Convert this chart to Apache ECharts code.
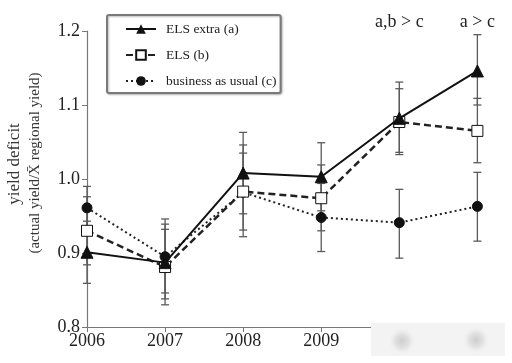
<!DOCTYPE html>
<html><head><meta charset="utf-8">
<script src="https://cdn.jsdelivr.net/npm/echarts@6/dist/echarts.min.js"></script>
<style>html,body{margin:0;padding:0;background:#fff}#c{width:512px;height:363px}</style>
</head><body><div id="c"></div>
<script>
var years = [2006, 2007, 2008, 2009, 2010, 2011];
var xTickLabels = ['2006', '2007', '2008', '2009', '2010', '2011'];
var yTicks = [0.8, 0.9, 1.0, 1.1, 1.2];
var seriesNames = ['ELS extra (a)', 'ELS (b)', 'business as usual (c)'];

var elsExtra = [0.901, 0.887, 1.008, 1.003, 1.082, 1.146];
var elsExtraLow = [0.859, 0.838, 0.953, 0.957, 1.036, 1.100];
var elsExtraHigh = [0.943, 0.939, 1.063, 1.049, 1.131, 1.195];

var els = [0.930, 0.881, 0.983, 0.974, 1.077, 1.065];
var elsLow = [0.884, 0.830, 0.931, 0.930, 1.033, 1.022];
var elsHigh = [0.976, 0.932, 1.035, 1.019, 1.122, 1.109];

var bau = [0.961, 0.895, 0.982, 0.948, 0.941, 0.963];
var bauLow = [0.930, 0.846, 0.922, 0.902, 0.893, 0.916];
var bauHigh = [0.990, 0.946, 1.046, 0.994, 0.986, 1.009];

var annotations = [{x: 2010, text: 'a,b > c'}, {x: 2011, text: 'a > c'}];

var serif = '"Liberation Serif", "DejaVu Serif", serif';

function pairs(vals) { return years.map(function (y, i) { return [y, vals[i]]; }); }
function bars(lo, hi) { return years.map(function (y, i) { return [y, lo[i], hi[i]]; }); }

function errRender(params, api) {
  var x = api.value(0);
  var p1 = api.coord([x, api.value(2)]);
  var p2 = api.coord([x, api.value(1)]);
  var w = 4;
  var st = {stroke: '#5a5a5a', lineWidth: 1.3};
  return {type: 'group', children: [
    {type: 'line', shape: {x1: p1[0], y1: p1[1], x2: p2[0], y2: p2[1]}, style: st},
    {type: 'line', shape: {x1: p1[0] - w, y1: p1[1], x2: p1[0] + w, y2: p1[1]}, style: st},
    {type: 'line', shape: {x1: p2[0] - w, y1: p2[1], x2: p2[0] + w, y2: p2[1]}, style: st}
  ]};
}

function blob(cx, cy) {
  return {type: 'ellipse', z: 101, silent: true, shape: {cx: cx, cy: cy, rx: 34, ry: 14},
    style: {fill: new echarts.graphic.RadialGradient(0.5, 0.5, 0.5, [
      {offset: 0, color: 'rgba(205,205,205,1)'},
      {offset: 0.5, color: 'rgba(220,220,220,0.8)'},
      {offset: 1, color: 'rgba(242,242,242,0)'}])}};
}

var chart = echarts.init(document.getElementById('c'));
var option = {
  animation: false,
  backgroundColor: '#fff',
  grid: {left: 87, right: 19, top: 31, bottom: 36},
  xAxis: {
    type: 'value', min: 2006, max: 2011.2, interval: 1,
    axisLine: {lineStyle: {color: '#777', width: 1.2}},
    axisTick: {length: 5, lineStyle: {color: '#777'}},
    splitLine: {show: false},
    axisLabel: {
      color: '#222', fontFamily: serif, fontSize: 18, margin: 5,
      formatter: function (v) { var i = years.indexOf(Math.round(v)); return (Math.abs(v - Math.round(v)) < 1e-6 && i >= 0) ? xTickLabels[i] : ''; },
      showMaxLabel: false
    }
  },
  yAxis: {
    type: 'value', min: 0.8, max: 1.2, interval: 0.1,
    axisLine: {show: true, lineStyle: {color: '#777', width: 1.2}},
    axisTick: {show: true, length: 5, lineStyle: {color: '#777'}},
    splitLine: {show: false},
    axisLabel: {
      color: '#222', fontFamily: serif, fontSize: 18, margin: 7,
      formatter: function (v) { for (var i = 0; i < yTicks.length; i++) { if (Math.abs(yTicks[i] - v) < 1e-6) return yTicks[i].toFixed(1); } return ''; }
    }
  },
  legend: {
    orient: 'vertical', left: 107, top: 15,
    padding: [7, 4, 5, 18], itemGap: 12, itemWidth: 30, itemHeight: 12,
    borderColor: '#7a7a7a', borderWidth: 2, borderRadius: 2,
    shadowColor: 'rgba(0,0,0,0.25)', shadowBlur: 2, shadowOffsetX: 1, shadowOffsetY: 1,
    backgroundColor: '#fff',
    textStyle: {fontFamily: serif, fontSize: 13.5, color: '#222', padding: [0, 0, 0, 5]},
    data: seriesNames
  },
  series: [
    {type: 'custom', name: 'errA', renderItem: errRender, data: bars(elsExtraLow, elsExtraHigh), z: 1, silent: true},
    {type: 'custom', name: 'errB', renderItem: errRender, data: bars(elsLow, elsHigh), z: 1, silent: true},
    {type: 'custom', name: 'errC', renderItem: errRender, data: bars(bauLow, bauHigh), z: 1, silent: true},
    {type: 'line', name: seriesNames[2], data: pairs(bau), z: 3,
      symbol: 'circle', symbolSize: 10,
      itemStyle: {color: '#111', borderColor: '#111'},
      lineStyle: {color: '#222', width: 2, type: [2, 3]}},
    {type: 'line', name: seriesNames[1], data: pairs(els), z: 4,
      symbol: 'rect', symbolSize: 11,
      itemStyle: {color: '#fff', borderColor: '#111', borderWidth: 1},
      lineStyle: {color: '#222', width: 2.5, type: [7, 4]}},
    {type: 'line', name: seriesNames[0], data: pairs(elsExtra), z: 5,
      symbol: 'triangle', symbolSize: 12,
      itemStyle: {color: '#111', borderColor: '#111'},
      lineStyle: {color: '#111', width: 2}}
  ],
  graphic: [
    {type: 'text', x: 15, y: 164, rotation: Math.PI / 2,
      style: {text: 'yield deficit', font: '17px ' + serif, fill: '#333', align: 'center', verticalAlign: 'middle'}},
    {type: 'text', x: 35, y: 163, rotation: Math.PI / 2,
      style: {text: '(actual yield/X\u0304 regional yield)', font: '15px ' + serif, fill: '#333', align: 'center', verticalAlign: 'middle'}},
    {type: 'rect', z: 100, silent: true, shape: {x: 371, y: 323, width: 134, height: 33},
      style: {fill: '#f3f3f3'}},
    blob(402, 341),
    blob(476, 340)
  ]
};
chart.setOption(option);
var ann = annotations.map(function (a) {
  var p = chart.convertToPixel({gridIndex: 0}, [a.x, 1.2]);
  return {type: 'text', x: p[0], y: 22, style: {text: a.text, font: '18px ' + serif, fill: '#222', align: 'center', verticalAlign: 'middle'}};
});
chart.setOption({graphic: option.graphic.concat(ann)});
</script></body></html>
